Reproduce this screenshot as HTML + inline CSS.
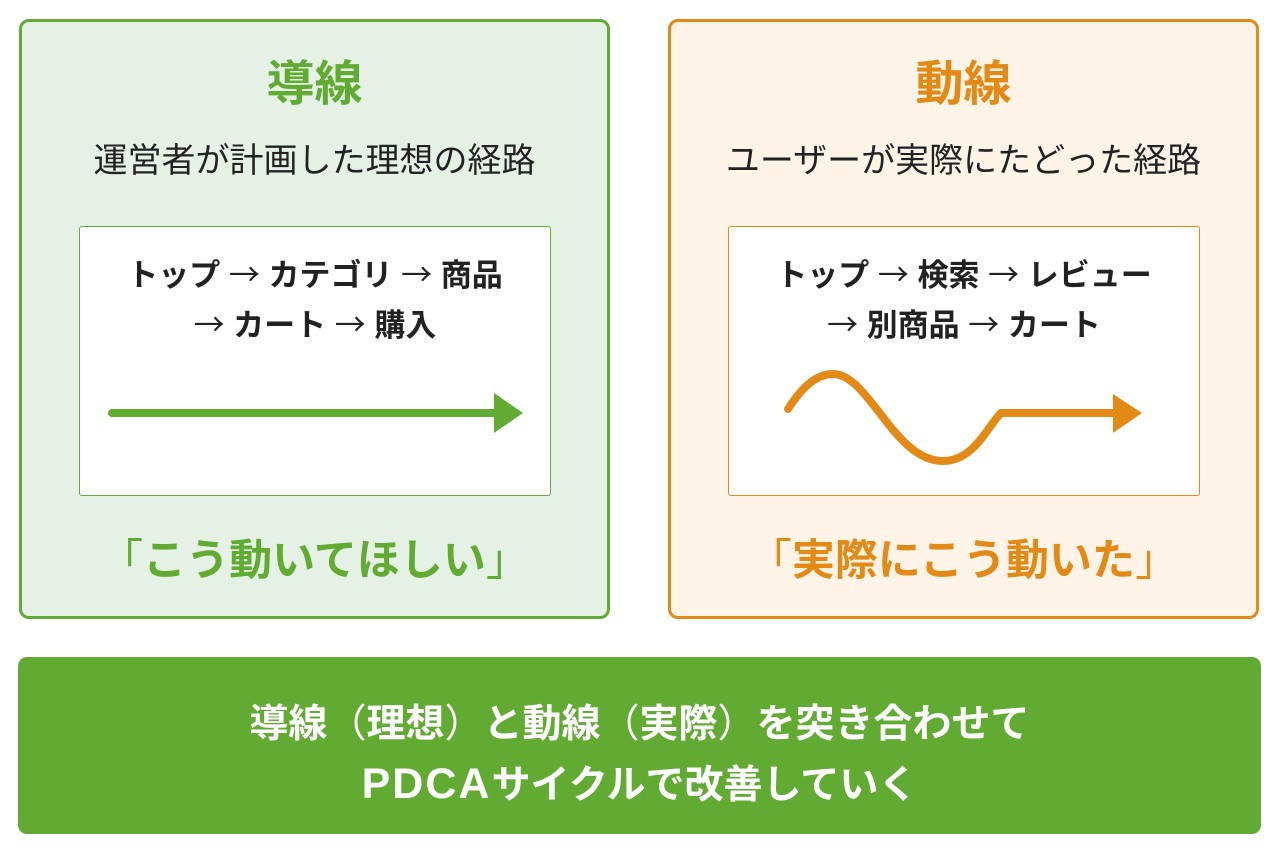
<!DOCTYPE html>
<html><head><meta charset="utf-8"><style>
body{margin:0;width:1280px;height:853px;background:#fff;font-family:"Liberation Sans","Noto Sans CJK JP",sans-serif;position:relative;overflow:hidden}
.box{position:absolute;top:19px;width:585px;height:594px;border:3px solid;border-radius:10px}
.g{left:19px;border-color:#62ab33;background:#e6f1e6}
.o{left:668px;border-color:#e38a16;background:#fdf3e6}
.t{position:absolute;left:0;width:100%;text-align:center}
.title{top:22px;font-size:48px;font-weight:bold}
.sub{top:111px;font-size:34px;color:#222}
.inner{position:absolute;top:204px;left:57px;width:470px;height:268px;background:#fff;border:1px solid;border-radius:3px}
.path{position:absolute;left:0;width:100%;text-align:center;font-size:31px;font-weight:bold;color:#222}
.arr{font-weight:normal;font-family:"Noto Sans CJK JP",sans-serif}
.q{top:504px;font-size:43px;font-weight:bold}
.bar{position:absolute;left:18px;top:657px;width:1243px;height:177px;background:#62ab33;border-radius:9px;color:#fff;font-weight:bold;font-size:39px;text-align:center}
</style></head><body>
<div class="box g">
 <div class="t title" style="color:#62ab33">導線</div>
 <div class="t sub">運営者が計画した理想の経路</div>
 <div class="inner" style="border-color:#62ab33">
  <div class="path" style="top:23px">トップ <span class="arr">→</span> カテゴリ <span class="arr">→</span> 商品</div>
  <div class="path" style="top:73px"><span class="arr">→</span> カート <span class="arr">→</span> 購入</div>
  <svg style="position:absolute;left:0;top:0" width="470" height="268">
   <line x1="32" y1="186" x2="418" y2="186" stroke="#62ab33" stroke-width="8" stroke-linecap="round"/>
   <polygon points="414,166 443,186 414,206" fill="#62ab33"/>
  </svg>
 </div>
 <div class="t q" style="color:#62ab33"><span style="font-weight:normal">「</span>こう動いてほしい<span style="font-weight:normal">」</span></div>
</div>
<div class="box o">
 <div class="t title" style="color:#e38a16">動線</div>
 <div class="t sub">ユーザーが実際にたどった経路</div>
 <div class="inner" style="border-color:#e38a16">
  <div class="path" style="top:23px">トップ <span class="arr">→</span> 検索 <span class="arr">→</span> レビュー</div>
  <div class="path" style="top:73px"><span class="arr">→</span> 別商品 <span class="arr">→</span> カート</div>
  <svg style="position:absolute;left:0;top:0" width="470" height="268">
   <path d="M59,182 C72,162 86,147 104,147 C140,147 165,234 214,234 C245,234 258,200 272,186 L388,186" fill="none" stroke="#e38a16" stroke-width="8" stroke-linecap="round" stroke-linejoin="round"/>
   <polygon points="384,167 413,186 384,206" fill="#e38a16"/>
  </svg>
 </div>
 <div class="t q" style="color:#e38a16"><span style="font-weight:normal">「</span>実際にこう動いた<span style="font-weight:normal">」</span></div>
</div>
<div class="bar">
 <div style="position:absolute;top:36px;width:100%">導線<span style="font-weight:normal">（</span>理想<span style="font-weight:normal">）</span>と動線<span style="font-weight:normal">（</span>実際<span style="font-weight:normal">）</span>を突き合わせて</div>
 <div style="position:absolute;top:97px;width:100%"><span style="font-size:43px;letter-spacing:2px">PDCA</span>サイクルで改善していく</div>
</div>
</body></html>
